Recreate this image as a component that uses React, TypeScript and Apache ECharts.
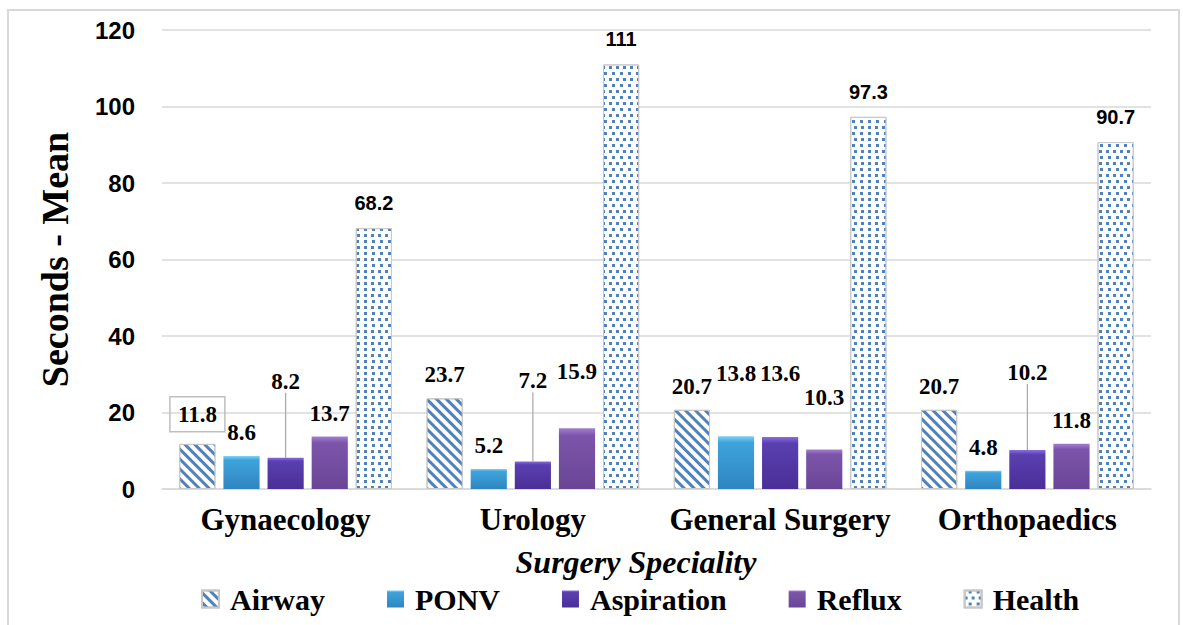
import React, { useEffect, useRef } from "react";
import * as echarts from "echarts";

const categories = ["Gynaecology", "Urology", "General Surgery", "Orthopaedics"];
const airway = [11.8, 23.7, 20.7, 20.7];
const ponv = [8.6, 5.2, 13.8, 4.8];
const aspiration = [8.2, 7.2, 13.6, 10.2];
const reflux = [13.7, 15.9, 10.3, 11.8];
const health = [68.2, 111, 97.3, 90.7];
const yMin = 0;
const yMax = 120;
const yInterval = 20;

// label vertical nudges (style, px)
const labelDy: Record<string, number[]> = {
  Airway: [0, 0, 0, 0],
  PONV: [0, 0, -39, 0],
  Aspiration: [-53, -57, -40, -54],
  Reflux: [0, -33, -29, 0],
  Health: [0, 0, 0, 0],
};

const serif = "Liberation Serif";
const sans = "Liberation Sans";

export default function App() {
  const ref = useRef<HTMLDivElement>(null);
  useEffect(() => {
    if (!ref.current) return;
    const chart = echarts.init(ref.current, null, { renderer: "svg" });
    const serifLabel = {
      show: true,
      position: "top",
      distance: 12,
      fontFamily: serif,
      fontWeight: "bold",
      fontSize: 23,
      color: "#000",
    };
    const layout = (name: string) => (p: any) => ({ dy: labelDy[name][p.dataIndex] || 0 });
    const grad = (c0: string, c1: string, c2: string) =>
      new echarts.graphic.LinearGradient(0, 0, 0, 1, [
        { offset: 0, color: c0 },
        { offset: 0.12, color: c1 },
        { offset: 1, color: c2 },
      ]);

    chart.setOption({
      animation: false,
      textStyle: { fontFamily: serif },
      grid: { left: 162, right: 32, top: 30, bottom: 136 },
      legend: {
        left: 196,
        top: 579,
        itemWidth: 17,
        itemHeight: 17,
        itemGap: 62,
        icon: "rect",
        textStyle: { fontFamily: serif, fontWeight: "bold", fontSize: 30, color: "#000", padding: [0, 0, 0, 6] },
        data: ["Airway", "PONV", "Aspiration", "Reflux", "Health"],
      },
      xAxis: {
        type: "category",
        data: categories,
        axisTick: { show: false },
        axisLine: { lineStyle: { color: "#d9d9d9", width: 1.5 } },
        axisLabel: { interval: 0, fontFamily: serif, fontWeight: "bold", fontSize: 31, color: "#000", margin: 15 },
      },
      yAxis: {
        type: "value",
        min: yMin,
        max: yMax,
        interval: yInterval,
        name: "Seconds - Mean",
        nameLocation: "middle",
        nameGap: 88,
        nameTextStyle: { fontFamily: serif, fontWeight: "bold", fontSize: 38, color: "#000" },
        axisLabel: { fontFamily: sans, fontWeight: "bold", fontSize: 24, color: "#000", margin: 27 },
        splitLine: { lineStyle: { color: "#d9d9d9", width: 1.5 } },
        axisLine: { show: false },
        axisTick: { show: false },
      },
      graphic: [
        {
          type: "rect",
          shape: { x: 8, y: 10, width: 1171, height: 660 },
          style: { fill: "none", stroke: "#d9d9d9", lineWidth: 2 },
          silent: true,
        },
        {
          type: "text",
          x: 636,
          y: 562,
          style: {
            text: "Surgery Speciality",
            fontFamily: serif,
            fontWeight: "bold",
            fontStyle: "italic",
            fontSize: 32,
            fill: "#000",
            align: "center",
            verticalAlign: "middle",
          },
        },
      ],
      series: [
        {
          name: "Airway",
          type: "bar",
          barCategoryGap: "14%",
          barGap: "22%",
          data: airway.map((v, i) =>
            i === 0
              ? { value: v, label: { borderColor: "#bfbfbf", borderWidth: 1.5, padding: [6, 8] } }
              : v
          ),
          itemStyle: {
            color: "#ffffff",
            borderColor: "#c8c8c8",
            borderWidth: 1,
            decal: {
              symbol: "rect",
              symbolSize: 1,
              color: "#4f81bd",
              dashArrayX: [1, 0],
              dashArrayY: [3, 4],
              rotation: Math.PI / 4,
            },
          },
          label: serifLabel,
          labelLayout: layout("Airway"),
        },
        {
          name: "PONV",
          type: "bar",
          data: ponv,
          itemStyle: { color: grad("#7fd0f5", "#3fa3dc", "#2f85c0") },
          label: serifLabel,
          labelLayout: layout("PONV"),
        },
        {
          name: "Aspiration",
          type: "bar",
          data: aspiration.map((v, i) => (i === 2 ? { value: v, labelLine: { show: false } } : v)),
          itemStyle: { color: grad("#8a6ee0", "#5a3fb0", "#4a2f98") },
          label: serifLabel,
          labelLine: { show: true, lineStyle: { color: "#a6a6a6", width: 1.2 } },
          labelLayout: layout("Aspiration"),
        },
        {
          name: "Reflux",
          type: "bar",
          data: reflux,
          itemStyle: { color: grad("#a27fd0", "#7c55aa", "#6a4596") },
          label: serifLabel,
          labelLayout: layout("Reflux"),
        },
        {
          name: "Health",
          type: "bar",
          data: health,
          itemStyle: {
            color: "#ffffff",
            borderColor: "#c8c8c8",
            borderWidth: 1,
            decal: {
              symbol: "rect",
              symbolSize: 1,
              color: "#4f81bd",
              dashArrayX: [
                [3, 4],
                [0, 3.5, 3, 0.5],
              ],
              dashArrayY: [3, 3],
            },
          },
          label: { ...serifLabel, fontFamily: sans, fontSize: 20, distance: 15 },
          labelLayout: layout("Health"),
        },
      ],
    });
    return () => chart.dispose();
  }, []);
  return (
    <div
      ref={ref}
      style={{ position: "fixed", left: 0, top: 0, width: 1183, height: 625, background: "#fff" }}
    />
  );
}
